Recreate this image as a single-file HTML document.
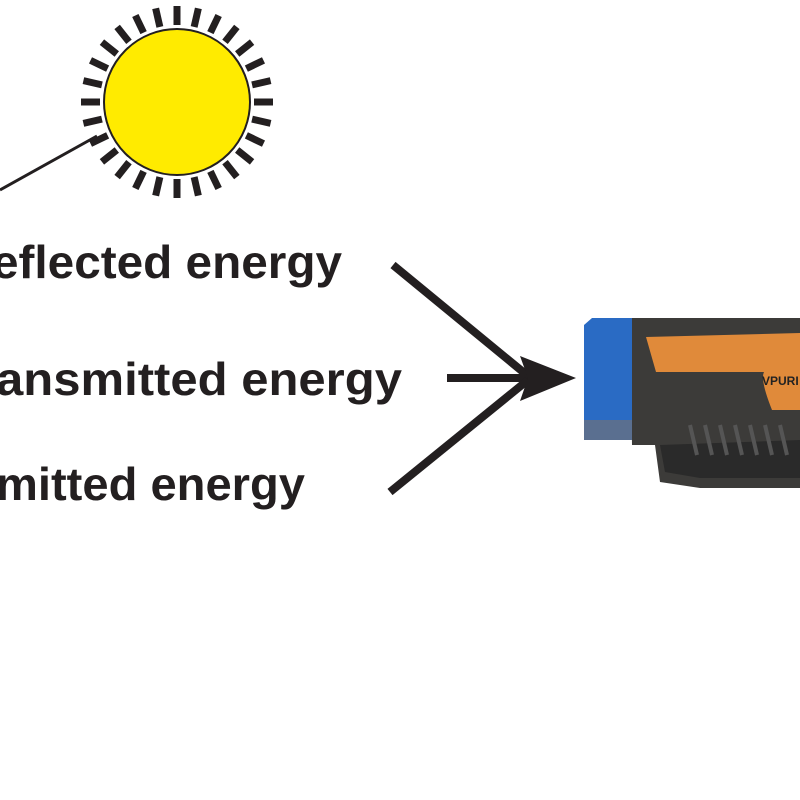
<!DOCTYPE html>
<html><head><style>
html,body{margin:0;padding:0;background:#fff;width:800px;height:800px;overflow:hidden}
</style></head><body>
<svg width="800" height="800" viewBox="0 0 800 800" xmlns="http://www.w3.org/2000/svg">
<g id="sun">
<g stroke="#231f20" stroke-width="7">
<script>/* placeholder */</script>
</g>
</g>
<g stroke="#231f20" stroke-width="7" id="rays"></g>
<circle cx="177" cy="102" r="73" fill="#ffeb00" stroke="#231f20" stroke-width="2"/>
<line x1="0" y1="190" x2="97" y2="136" stroke="#231f20" stroke-width="3"/>
<g font-family="Liberation Sans, sans-serif" font-weight="bold" font-size="46" fill="#231f20">
<text x="-8" y="278" textLength="350" lengthAdjust="spacingAndGlyphs">eflected energy</text>
<text x="-4" y="395" textLength="406" lengthAdjust="spacingAndGlyphs">ansmitted energy</text>
<text x="-4" y="500" textLength="309" lengthAdjust="spacingAndGlyphs">mitted energy</text>
</g>
<g stroke="#231f20" stroke-width="8" fill="none">
<line x1="393" y1="265" x2="528" y2="376"/>
<line x1="447" y1="378" x2="528" y2="378"/>
<line x1="390" y1="492" x2="528" y2="380"/>
</g>
<polygon points="520,356 576,378 520,401 528,378" fill="#231f20"/>
<!-- device -->
<path d="M630,318 L800,318 L800,488 L700,488 L660,482 L655,445 L632,445 Z" fill="#3c3b39"/>
<path d="M660,445 L800,440 L800,478 L700,478 L665,472 Z" fill="#2a2a2a"/>
<g stroke="#555" stroke-width="4">
<line x1="690" y1="425" x2="697" y2="455"/><line x1="705" y1="425" x2="712" y2="455"/>
<line x1="720" y1="425" x2="727" y2="455"/><line x1="735" y1="425" x2="742" y2="455"/>
<line x1="750" y1="425" x2="757" y2="455"/><line x1="765" y1="425" x2="772" y2="455"/>
<line x1="780" y1="425" x2="787" y2="455"/>
</g>
<path d="M646,337 L800,333 L800,410 L772,410 Q760,380 764,372 L656,372 Z" fill="#e08a3a"/>
<text x 
="762" y="385" font-family="Liberation Sans, sans-serif" font-weight="bold" font-size="12" fill="#222">VPURI</text>
<path d="M592,318 L632,318 L632,440 L590,440 L584,430 L584,325 Z" fill="#2a6bc4"/>
<rect x="584" y="420" width="48" height="20" fill="#5a6f90"/>
</svg>
<script>
var g=document.getElementById('rays');var n=28;
for(var i=0;i<n;i++){var a=i*2*Math.PI/n;var c=Math.cos(a),s=Math.sin(a);
var l=document.createElementNS('http://www.w3.org/2000/svg','line');
l.setAttribute('x1',177+77*c);l.setAttribute('y1',102+77*s);
l.setAttribute('x2',177+96*c);l.setAttribute('y2',102+96*s);g.appendChild(l);}
</script>
</body></html>
